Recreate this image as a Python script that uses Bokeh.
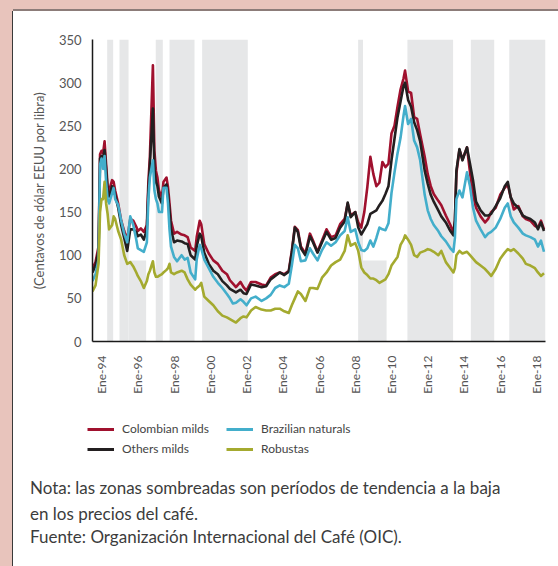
import math
from bokeh.plotting import figure
from bokeh.models import Legend, LegendItem, FixedTicker, Range1d, Div
from bokeh.layouts import column
from bokeh.embed import file_html
from bokeh.resources import INLINE

# ---------------- data (US cents per lb) ----------------
months = [
    "1994-01", "1994-03", "1994-05", "1994-06", "1994-07", "1994-08", "1994-09", "1994-10", "1994-11", "1994-12",
    "1995-02", "1995-03", "1995-04", "1995-06", "1995-08", "1995-10", "1995-12",
    "1996-02", "1996-04", "1996-06", "1996-07", "1996-09", "1996-11",
    "1997-01", "1997-02", "1997-03", "1997-05", "1997-06", "1997-07", "1997-08", "1997-09", "1997-11", "1997-12",
    "1998-02", "1998-03", "1998-04", "1998-05", "1998-07", "1998-09", "1998-12",
    "1999-02", "1999-04", "1999-06", "1999-09", "1999-10", "1999-12",
    "2000-01", "2000-03", "2000-06", "2000-09", "2000-12",
    "2001-03", "2001-06", "2001-08", "2001-10", "2001-12",
    "2002-03", "2002-05", "2002-07", "2002-10",
    "2003-01", "2003-05", "2003-08", "2003-11",
    "2004-02", "2004-05", "2004-08", "2004-11",
    "2005-01", "2005-03", "2005-05", "2005-07", "2005-10",
    "2006-01", "2006-03", "2006-06", "2006-09", "2006-12",
    "2007-03", "2007-06", "2007-09", "2007-12",
    "2008-02", "2008-04", "2008-07", "2008-09", "2008-11",
    "2009-01", "2009-03", "2009-05", "2009-07", "2009-09", "2009-11",
    "2010-01", "2010-03", "2010-05", "2010-07", "2010-09", "2010-11",
    "2011-01", "2011-03", "2011-04", "2011-06", "2011-08", "2011-10", "2011-12",
    "2012-02", "2012-05", "2012-07", "2012-09", "2012-11",
    "2013-02", "2013-04", "2013-07", "2013-10", "2013-12",
    "2014-01", "2014-02", "2014-04", "2014-06", "2014-09", "2014-11",
    "2015-01", "2015-03", "2015-06", "2015-09", "2015-11",
    "2016-01", "2016-04", "2016-07", "2016-10", "2016-12",
    "2017-02", "2017-04", "2017-07", "2017-10", "2017-12",
    "2018-03", "2018-06", "2018-08", "2018-10", "2018-12",
]

colombian_milds = [
    85, 92, 110, 217, 221, 218, 232, 206, 180, 175,
    187, 185, 175, 160, 140, 128, 118,
    142, 140, 133, 128, 131, 127,
    135, 185, 214, 320, 221, 198, 190, 175, 167, 185,
    190, 179, 160, 140, 125, 127, 124,
    123, 121, 109, 105, 121, 140,
    136, 113, 102, 94, 90,
    82, 78, 71, 67, 63,
    69, 63, 59, 69,
    69, 66, 65, 74,
    78, 80, 78, 82,
    105, 133, 129, 110, 102,
    125, 117, 104, 117, 130,
    121, 123, 136, 142,
    160, 146, 150, 138, 132,
    150, 179, 214, 194, 180, 184,
    208, 202, 206, 241, 250, 272,
    292, 305, 314, 290, 288, 260, 258,
    240, 214, 194, 180, 171,
    163, 158, 146, 135, 126,
    140, 195, 222, 211, 225, 196,
    170, 155, 145, 138, 142,
    150, 155, 170, 178, 182,
    167, 153, 157, 145, 142,
    140, 134, 132, 140, 130,
]

others_milds = [
    80, 88, 105, 212, 215, 212, 222, 200, 175, 168,
    180, 178, 170, 155, 135, 120, 105,
    130, 130, 127, 122, 124, 118,
    130, 175, 205, 270, 200, 185, 180, 168, 160, 178,
    182, 170, 152, 130, 115, 117, 116,
    114, 113, 100, 95, 110, 125,
    122, 103, 90, 82, 78,
    70, 65, 61, 59, 57,
    60, 56, 55, 66,
    65, 63, 64, 72,
    76, 80, 77, 81,
    103, 132, 127, 108, 100,
    122, 115, 103, 115, 127,
    118, 120, 132, 139,
    161, 144, 150, 132, 124,
    130, 136, 148, 150, 152, 158,
    163, 171, 180, 210, 235, 260,
    278, 296, 300, 280, 272, 254, 245,
    232, 198, 183, 170, 162,
    152, 145, 138, 128, 123,
    140, 198, 223, 210, 225, 206,
    187, 162, 152, 146, 146,
    148, 157, 166, 180, 185,
    167, 160, 155, 146, 144,
    142, 138, 130, 138, 128,
]

brazilian_naturals = [
    70, 78, 95, 205, 212, 200, 215, 185, 165, 160,
    172, 178, 165, 158, 140, 125, 115,
    145, 135, 118, 108, 106, 104,
    115, 165, 190, 210, 175, 165, 160, 150, 150, 178,
    178, 160, 130, 110, 98, 93, 100,
    95, 97, 80, 72, 95, 112,
    108, 95, 85, 75, 68,
    62, 55, 50, 44, 45,
    49, 46, 42, 50,
    52, 47, 50, 54,
    62, 65, 63, 67,
    88, 112, 108, 93, 94,
    108, 102, 94, 106, 115,
    111, 115, 123, 128,
    144, 127, 130, 115, 106,
    105, 108, 117, 110, 120, 132,
    130, 129, 137, 172, 196, 218,
    236, 262, 273, 252, 258, 233, 225,
    210, 170, 152, 142, 135,
    128, 122, 116, 108, 104,
    120, 165, 175, 167, 196, 180,
    155, 140, 130, 121, 125,
    127, 132, 142, 155, 160,
    145, 138, 132, 125, 123,
    121, 118, 110, 117, 104,
]

robustas = [
    58, 65, 90, 150, 165, 165, 185, 160, 148, 130,
    135, 145, 142, 128, 118, 100, 90,
    92, 87, 80, 76, 70, 62,
    70, 78, 82, 93, 80, 75, 75, 76, 78, 80,
    83, 85, 90, 80, 78, 80, 82,
    80, 72, 66, 60, 62, 65,
    68, 52, 47, 42, 35,
    30, 28, 26, 24, 22,
    27, 29, 28, 36,
    40, 37, 36, 36,
    38, 38, 35, 33,
    42, 50, 58, 55, 47,
    62, 62, 61, 74, 80,
    88, 92, 95, 105,
    123, 111, 114, 105, 86,
    80, 77, 73, 73, 71, 68,
    70, 72, 78, 88, 93, 98,
    112, 118, 123, 118, 112, 100, 98,
    103, 105, 107, 106, 104,
    100, 105, 92, 85, 80,
    85, 100, 105, 102, 104, 100,
    96, 92, 88, 84, 80,
    76, 84, 96, 103, 107,
    105, 107, 102, 96, 90,
    88, 85, 80, 76, 79,
]

# shaded periods of falling prices (decimal years) and their top value
band_start = [1994.81, 1995.49, 1995.99, 1997.49, 1998.25, 2000.05, 2008.66, 2008.93, 2011.38, 2014.88, 2017.00]
band_end = [1995.14, 1995.99, 1996.96, 1997.88, 1999.63, 2002.57, 2008.93, 2010.23, 2013.90, 2016.17, 2019.00]
band_top = [350, 350, 94, 350, 350, 350, 350, 94, 350, 350, 350]

tick_years = [1994, 1996, 1998, 2000, 2002, 2004, 2006, 2008, 2010, 2012, 2014, 2016, 2018]
tick_labels = ["Ene-94", "Ene-96", "Ene-98", "Ene-00", "Ene-02", "Ene-04", "Ene-06",
               "Ene-08", "Ene-10", "Ene-12", "Ene-14", "Ene-16", "Ene-18"]
y_ticks = [0, 50, 100, 150, 200, 250, 300, 350]

series_names = ["Colombian milds", "Others milds", "Brazilian naturals", "Robustas"]
series_colors = ["#A0112E", "#231F20", "#43AECB", "#A4AA2F"]
# legend is filled column by column: col 1 = Colombian / Others, col 2 = Brazilian / Robustas
legend_order = ["Colombian milds", "Others milds", "Brazilian naturals", "Robustas"]

note_lines = [
    "Nota: las zonas sombreadas son períodos de tendencia a la baja",
    "en los precios del café.",
    "Fuente: Organización Internacional del Café (OIC).",
]

FONT = "Lato"
PINK = "#E8C4BC"
W = 545

# ---------------- main chart ----------------
x = [int(m[:4]) + (int(m[5:7]) - 1) / 12.0 for m in months]

p = figure(width=W, height=389, output_backend="svg", toolbar_location=None,
           x_range=Range1d(1994.0, 2019.0), y_range=Range1d(0, 350),
           min_border_left=79, min_border_right=13, min_border_top=28, min_border_bottom=59)
p.background_fill_color = "white"
p.border_fill_color = "white"
p.outline_line_color = None
p.grid.visible = False

p.quad(left=band_start, right=band_end, bottom=0, top=band_top,
       fill_color="#E6E7E8", line_color=None)

values = dict(zip(series_names, [colombian_milds, others_milds, brazilian_naturals, robustas]))
for name, col in zip(series_names, series_colors):
    p.line(x, values[name], line_color=col, line_width=2.6, line_join="round")

p.yaxis.ticker = FixedTicker(ticks=y_ticks)
p.xaxis.ticker = FixedTicker(ticks=[yr + 0.5 for yr in tick_years])
p.xaxis.major_label_overrides = {yr + 0.5: lab for yr, lab in zip(tick_years, tick_labels)}
p.xaxis.major_label_orientation = math.pi / 2
for ax in (p.xaxis, p.yaxis):
    ax.major_tick_line_color = None
    ax.minor_tick_line_color = None
    ax.major_tick_out = 0
    ax.major_tick_in = 0
    ax.minor_tick_out = 0
    ax.minor_tick_in = 0
    ax.axis_line_color = "#1A1A1A"
    ax.axis_line_width = 1.5
    ax.major_label_text_font = FONT
    ax.major_label_text_color = "#555555"
p.yaxis.major_label_text_font_size = "13px"
p.xaxis.major_label_text_font_size = "12px"
p.yaxis.major_label_standoff = 11
p.xaxis.major_label_standoff = 14
p.yaxis.axis_label = "(Centavos de dólar EEUU por libra)"
p.yaxis.axis_label_text_font = FONT
p.yaxis.axis_label_text_font_size = "13px"
p.yaxis.axis_label_text_font_style = "normal"
p.yaxis.axis_label_text_color = "#555555"
p.yaxis.axis_label_standoff = 9

# ---------------- legend panel ----------------
q = figure(width=W, height=74, output_backend="svg", toolbar_location=None,
           x_range=Range1d(0, 1), y_range=Range1d(0, 1),
           x_axis_location=None, y_axis_location=None,
           min_border_left=0, min_border_right=0, min_border_top=0, min_border_bottom=0)
q.grid.visible = False
q.outline_line_color = None
q.background_fill_color = "white"
q.border_fill_color = "white"

legend_renderers = {}
for name, col in zip(series_names, series_colors):
    legend_renderers[name] = q.line([float("nan")], [float("nan")], line_color=col, line_width=3)

items = [LegendItem(label=n, renderers=[legend_renderers[n]]) for n in legend_order]
legend = Legend(items=items, ncols=2, location=(74, 18),
                glyph_width=27, glyph_height=14, label_height=14, label_width=99,
                label_standoff=8, spacing=5, padding=0, margin=0,
                border_line_color=None, background_fill_alpha=0,
                label_text_font=FONT, label_text_font_size="12px", label_text_color="#444444")
q.add_layout(legend, "center")

# ---------------- notes ----------------
line_heights = [26, 25, 22]
rows = "".join(
    '<div style="height:%dpx;line-height:%dpx;white-space:nowrap;">%s</div>' % (h, h, t)
    for t, h in zip(note_lines, line_heights))
notes = Div(text='<div style="margin-top:-4px;padding-left:12px;font-family:Lato;'
                 'font-size:17px;color:#3C3C3C;">' + rows + '</div>',
            width=W, height=92, styles={"background-color": "white"})

bottom = column(q, notes, spacing=0)
layout = column(p, bottom, spacing=0, margin=(11, 0, 0, 13),
                styles={"box-shadow": "0px -2px 0px 0px #8C7C79, -1px 0px 0px 0px #3A3A3A, "
                                      "0px 0px 0px 14px " + PINK})
open("out.html", "w").write(file_html(layout, INLINE))
